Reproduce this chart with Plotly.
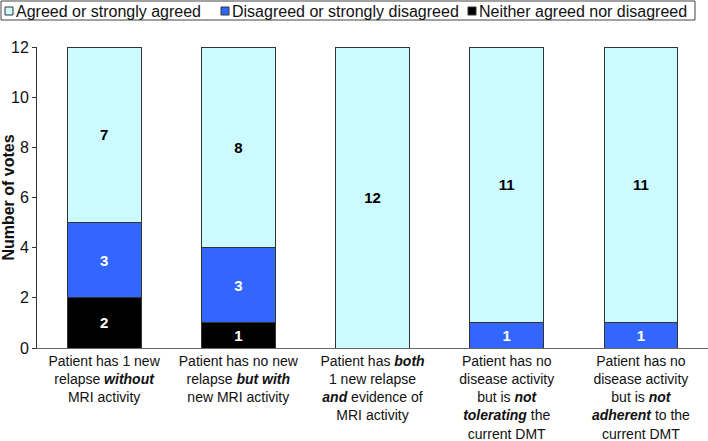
import plotly.graph_objects as go

categories = [
    "Patient has 1 new<br>relapse <b><i>without</i></b><br>MRI activity",
    "Patient has no new<br>relapse <b><i>but with</i></b><br>new MRI activity",
    "Patient has <b><i>both</i></b><br>1 new relapse<br><b><i>and</i></b> evidence of<br>MRI activity",
    "Patient has no<br>disease activity<br>but is <b><i>not</i></b><br><b><i>tolerating</i></b> the<br>current DMT",
    "Patient has no<br>disease activity<br>but is <b><i>not</i></b><br><b><i>adherent</i></b> to the<br>current DMT",
]
neither = [2, 1, 0, 0, 0]
disagreed = [3, 3, 0, 1, 1]
agreed = [7, 8, 12, 11, 11]

series_names = ["Agreed or strongly agreed", "Disagreed or strongly disagreed", "Neither agreed nor disagreed"]
series_colors = ["#ccfbff", "#3366ff", "#000000"]

W, H = 708, 441
ML, MR, MT, MB = 37, 0, 47, 93
PW, PH = W - ML - MR, H - MT - MB

def px_x(px):
    return (px - ML) / PW

def px_y(py):
    return (H - MB - py) / PH

def labels(vals):
    return [f"<b>{v}</b>" if v else "" for v in vals]

fig = go.Figure()
stack = [(series_names[2], neither, series_colors[2], "white"),
         (series_names[1], disagreed, series_colors[1], "white"),
         (series_names[0], agreed, series_colors[0], "black")]
for name, vals, col, tcol in stack:
    fig.add_trace(go.Bar(name=name, x=categories, y=vals, showlegend=False,
                         marker=dict(color=col, line=dict(color="#333333", width=1)),
                         text=labels(vals), textposition="inside", insidetextanchor="middle",
                         textfont=dict(color=tcol, size=15)))

# custom legend (box, swatches, labels)
shapes = [dict(type="rect", xref="paper", yref="paper", x0=px_x(1), x1=px_x(695),
               y0=px_y(1), y1=px_y(20), line=dict(color="#444444", width=1), fillcolor="white")]
annotations = []
sw_x = [5, 221, 468]
for i, (nm, col) in enumerate(zip(series_names, series_colors)):
    shapes.append(dict(type="rect", xref="paper", yref="paper", x0=px_x(sw_x[i]), x1=px_x(sw_x[i] + 8),
                       y0=px_y(7), y1=px_y(15), line=dict(color="#333333", width=1), fillcolor=col))
    annotations.append(dict(text=nm, xref="paper", yref="paper", x=px_x(sw_x[i] + 9), y=px_y(11),
                            xanchor="left", yanchor="middle", showarrow=False,
                            font=dict(size=16, color="#111111")))

fig.update_layout(
    width=W, height=H,
    margin=dict(l=ML, r=MR, t=MT, b=MB),
    barmode="stack", bargap=0.45,
    plot_bgcolor="white", paper_bgcolor="white",
    font=dict(family="Liberation Sans, Arial, sans-serif", size=14, color="#111111"),
    uniformtext=dict(mode="show", minsize=14),
    showlegend=False,
    shapes=shapes, annotations=annotations,
    xaxis=dict(showline=True, linecolor="#666666", linewidth=1, ticks="", showgrid=False,
               tickfont=dict(size=14), range=[-0.5, 4.5], automargin=False),
    yaxis=dict(range=[0, 12], dtick=2, showline=True, linecolor="#333333", linewidth=1,
               ticks="outside", ticklen=4, tickcolor="#333333", showgrid=False,
               tickfont=dict(size=16), automargin=False,
               title=dict(text="<b>Number of votes</b>", font=dict(size=16), standoff=6)),
)
fig.write_html("out.html", config={"displayModeBar": False},
               post_script="document.body.style.margin='0';document.body.style.overflow='hidden';")
